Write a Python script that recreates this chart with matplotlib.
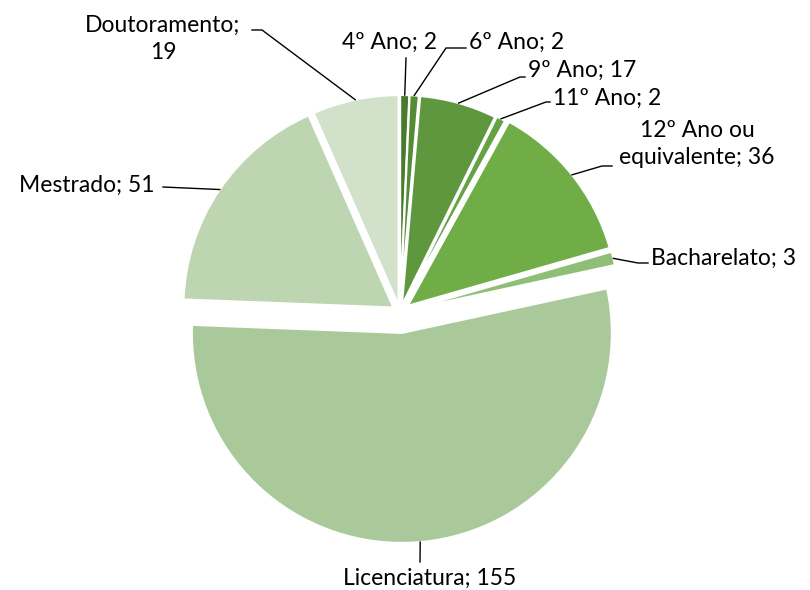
import numpy as np
import matplotlib
matplotlib.use('Agg')
import matplotlib.pyplot as plt

plt.rcParams['font.family'] = ['Lato', 'DejaVu Sans']

labels = ['4º Ano', '6º Ano', '9º Ano', '11º Ano', '12º Ano ou\nequivalente',
          'Bacharelato', 'Licenciatura', 'Mestrado', 'Doutoramento']
values = [2, 2, 17, 2, 36, 3, 155, 51, 19]
colors = ['#4b7a2f', '#548c36', '#5f973e', '#66a243', '#70ad47',
          '#8fbf77', '#a9c99a', '#bdd6b1', '#d2e1ca']
# explode is in data units here (radius is in pixels)
explode = [7, 7, 7, 8, 10, 10, 21, 8, 7]

W, H = 810, 590

fig = plt.figure(figsize=(8.1, 5.9), dpi=100)
ax = fig.add_axes([0, 0, 1, 1])

wedges, _ = ax.pie(values, colors=colors, explode=explode, startangle=90,
                   counterclock=False, center=(400, H - 312), radius=210,
                   wedgeprops=dict(edgecolor='white', linewidth=1.5))
# pie resets the limits, so set them afterwards
ax.set_xlim(0, W)
ax.set_ylim(0, H)
ax.set_aspect('equal')
ax.axis('off')

# label text position, elbow, text alignment  (pixel coords, y from top)
layout = [
    ((390, 42), (406, 58), 'center'),
    ((469, 42), (456, 48), 'left'),
    ((528, 70), (530, 77), 'left'),
    ((553, 98), (556, 102), 'left'),
    ((697, 144), (612, 166), 'center'),
    ((651, 258), (648, 263), 'left'),
    ((430, 578), (420, 562), 'center'),
    ((87, 185), (163, 187), 'center'),
    ((163, 39), (262, 30), 'center'),
]

for w, lab, v, (tpos, elbow, ha) in zip(wedges, labels, values, layout):
    mid = np.deg2rad((w.theta1 + w.theta2) / 2)
    ax_, ay_ = w.center[0] + w.r * np.cos(mid), w.center[1] + w.r * np.sin(mid)
    txt = f'{lab}; {v}'
    if lab == 'Doutoramento':
        txt = f'{lab};\n{v}'
    ax.text(tpos[0], H - tpos[1], txt, ha=ha, va='center', fontsize=16.5,
            linespacing=1.4, color='black')
    ex, ey = elbow
    if ha == 'left':
        pts_x = [tpos[0] - 3, ex - 10, ax_]
        pts_y = [H - ey, H - ey, ay_]
    elif lab.startswith('12'):
        pts_x = [ex, ex - 10, ax_]
        pts_y = [H - ey, H - ey, ay_]
    elif lab == 'Doutoramento':
        pts_x = [ex - 10, ex, ax_]
        pts_y = [H - ey, H - ey, ay_]
    else:
        pts_x = [ex, ax_]
        pts_y = [H - ey, ay_]
    ax.plot(pts_x, pts_y, color='black', lw=1)

fig.savefig('out.png', dpi=100, facecolor='white')
